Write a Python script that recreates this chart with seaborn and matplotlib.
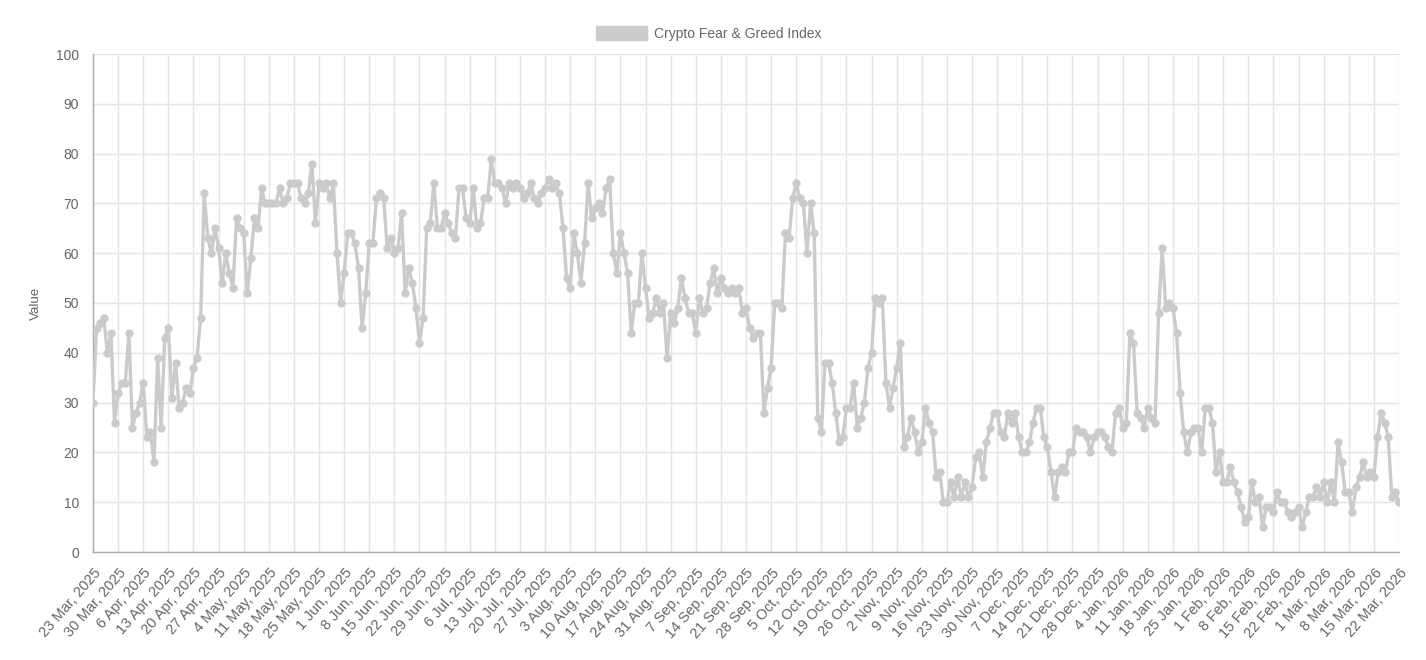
import matplotlib
matplotlib.use("Agg")
import matplotlib.pyplot as plt
import matplotlib.patches as mpatches
import seaborn as sns
import pandas as pd

start_date = "2025-03-23"
series_name = "Crypto Fear & Greed Index"

values_q2 = [30, 45, 46, 47, 40, 44, 26, 32, 34, 34, 44, 25, 28, 30, 34, 23, 24, 18, 39, 25,
             43, 45, 31, 38, 29, 30, 33, 32, 37, 39, 47, 72, 63, 60, 65]
values_may = [61, 54, 60, 56, 53, 67, 65, 64, 52, 59, 67, 65, 73, 70, 70, 70, 70, 73, 70, 71,
              74, 74, 74, 71, 70, 72, 78, 66, 74, 73, 74, 71, 74, 60, 50, 56, 64]
values_jun = [64, 62, 57, 45, 52, 62, 62, 71, 72, 71, 61, 63, 60, 61, 68, 52, 57, 54, 49, 42,
              47, 65, 66, 74, 65, 65, 68, 66, 64, 63, 73, 73, 67, 66, 73, 65]
values_jul = [66, 71, 71, 79, 74, 74, 73, 70, 74, 73, 74, 73, 71, 72, 74, 71, 70, 72, 73, 75,
              73, 74, 72, 65, 55, 53, 64, 60, 54, 62, 74, 67, 69, 70, 68, 73, 75]
values_aug = [60, 56, 64, 60, 56, 44, 50, 50, 60, 53, 47, 48, 51, 48, 50, 39, 48, 46, 49, 55,
              51, 48, 48, 44, 51, 48, 49, 54, 57, 52, 55, 53, 52, 53, 52, 53]
values_sep = [48, 49, 45, 43, 44, 44, 28, 33, 37, 50, 50, 49, 64, 63, 71, 74, 71, 70, 60, 70,
              64, 27, 24, 38, 38, 34, 28, 22, 23, 29, 29, 34, 25, 27, 30, 37, 40]
values_oct = [51, 50, 51, 34, 29, 33, 37, 42, 21, 23, 27, 24, 20, 22, 29, 26, 24, 15, 16, 10,
              10, 14, 11, 15, 11, 14, 11, 13, 19, 20, 15, 22, 25, 28, 28]
values_dec = [24, 23, 28, 26, 28, 23, 20, 20, 22, 26, 29, 29, 23, 21, 16, 11, 16, 17, 16, 20,
              20, 25, 24, 24, 23, 20, 23, 24, 24, 23, 21, 20, 28, 29, 25, 26, 44]
values_jan = [42, 28, 27, 25, 29, 27, 26, 48, 61, 49, 50, 49, 44, 32, 24, 20, 24, 25, 25, 20,
              29, 29, 26, 16, 20, 14, 14, 17, 14, 12, 9, 6, 7, 14, 10, 11]
values_feb = [5, 9, 9, 8, 12, 10, 10, 8, 7, 8, 9, 5, 8, 11, 11, 13, 11, 14, 10, 14,
              10, 22, 18, 12, 12, 8, 13, 15, 18, 15, 16, 15, 23, 28, 26, 23, 11, 12, 10]

values = (values_q2 + values_may + values_jun + values_jul + values_aug + values_sep
          + values_oct + values_dec + values_jan + values_feb)
dates = pd.date_range(start_date, periods=len(values), freq="D")
df = pd.DataFrame({"date": dates, "value": values})

tick_dates = pd.date_range(start_date, dates[-1], freq="7D")
tick_labels = [f"{d.day} {d.strftime('%b')}, {d.year}" for d in tick_dates]

sns.set_theme(style="white")
plt.rcParams["font.family"] = ["Liberation Sans", "DejaVu Sans"]

line_color = "#cbcbcd"
text_color = "#666666"
grid_color = "#e4e4e4"

fig = plt.figure(figsize=(14.26, 6.6), dpi=100)
ax = fig.add_axes([93/1426, 1 - 552/660, (1399 - 93)/1426, (552 - 54)/660])

sns.lineplot(data=df, x="date", y="value", ax=ax, color=line_color, linewidth=2.4,
             marker="o", markersize=6, markeredgewidth=0, markerfacecolor=line_color,
             legend=False, zorder=3)

ax.set_xlim(dates[0], dates[-1])
ax.set_ylim(0, 100)
ax.set_yticks(range(0, 101, 10))
ax.set_xticks(tick_dates)
ax.set_xticklabels(tick_labels, rotation=49, ha="right", rotation_mode="anchor",
                   fontsize=10.5, color=text_color)
ax.tick_params(axis="y", labelsize=10, labelcolor=text_color)
ax.tick_params(axis="both", length=7, width=1, color=grid_color, direction="out", pad=3)
ax.grid(True, color=grid_color, linewidth=1)
ax.set_axisbelow(True)
for s in ["top", "right"]:
    ax.spines[s].set_visible(False)
for s in ["left", "bottom"]:
    ax.spines[s].set_color("#aaaaaa")
    ax.spines[s].set_linewidth(1)
ax.set_xlabel("")
ax.set_ylabel("Value", fontsize=9.6, color=text_color, labelpad=10)

handle = mpatches.Patch(facecolor=line_color, edgecolor=line_color, label=series_name)
fig.legend(handles=[handle], loc="upper center", bbox_to_anchor=(0.497, 0.98),
           frameon=False, fontsize=10, handlelength=3.7, handleheight=1.2,
           handletextpad=0.5, labelcolor=text_color)

fig.savefig("out.png", dpi=100)
